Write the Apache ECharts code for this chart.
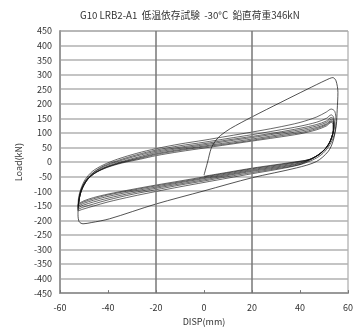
<!DOCTYPE html>
<html>
<head>
<meta charset="utf-8">
<script src="https://cdn.jsdelivr.net/npm/echarts@6/dist/echarts.min.js"></script>
<style>
  html, body { margin: 0; padding: 0; background: #fff; }
  #chart { width: 356px; height: 331px; }
</style>
</head>
<body>
<div id="chart"></div>
<script>
// Hysteresis record: displacement (mm) vs. load (kN), one array per cycle
const titleText = 'G10 LRB2-A1  低温依存試験  -30°C  鉛直荷重346kN';
const xTickValues = [-60, -40, -20, 0, 20, 40, 60];
const yTickValues = [-450, -400, -350, -300, -250, -200, -150, -100, -50, 0, 50, 100, 150, 200, 250, 300, 350, 400, 450];
const gridLineX = [-20, 20];

const cycle0 = [[0,-45],[1.5,0],[3,47],[5,75],[7,92],[11,115],[20,155],[32,205],[43,250],[51,282],[53.7,290],[55,279],[55.8,239],[55.5,180],[55.1,126],[53.7,70],[51.7,36],[46.9,2],[38.6,-20],[20,-54],[0,-99],[-20,-144],[-39.4,-195],[-47,-208],[-50.4,-212],[-52,-205],[-52.5,-180],[-52.5,-168]];
const cycle1 = [[-52.5,-168],[-52.3,-125],[-51.3,-92],[-49.5,-60],[-46.5,-32],[-42,-10],[-36,10],[-28,30],[-20,46],[-10,62],[0,75],[10,89],[20,103],[30,118],[40,136],[47,155],[51,172],[53,182],[54.5,174],[55,140],[54.6,105],[53.6,78],[52.1,55],[49.6,30],[46,10],[40,-9],[30,-26],[20,-40],[10,-55],[0,-70],[-10,-85],[-20,-101],[-30,-118],[-40,-137],[-46,-151],[-50.5,-162],[-52.5,-168]];
const cycle2 = [[-52.5,-168],[-52,-120],[-51,-90],[-49,-60],[-46,-35],[-42,-14],[-36,5],[-28,25],[-20,41],[-10,56],[0,68],[10,81],[20,94],[30,108],[40,123],[47,137],[51,150],[53,162],[54,154],[54.3,128],[53.8,100],[52.8,75],[51.2,52],[48.7,30],[45,11],[40,-8],[30,-23],[20,-36],[10,-50],[0,-65],[-10,-79],[-20,-95],[-30,-111],[-40,-130],[-46,-144],[-50.5,-155],[-52.5,-163]];
const cycle3 = [[-52.5,-163],[-51.8,-117],[-50.8,-88],[-48.8,-59],[-45.8,-35],[-41.5,-15],[-35.5,3],[-28,21],[-20,37],[-10,51],[0,63],[10,76],[20,88],[30,101],[40,116],[47,129],[51,141],[53,153],[54,147],[54.2,122],[53.6,96],[52.6,72],[51,50],[48.5,29],[45,12],[40,-5],[30,-20],[20,-32],[10,-46],[0,-61],[-10,-75],[-20,-90],[-30,-106],[-40,-124],[-46,-137],[-50.3,-148],[-52.5,-157]];
const cycle4 = [[-52.5,-157],[-51.7,-114],[-50.6,-87],[-48.6,-59],[-45.5,-36],[-41,-17],[-35,0],[-27.5,17],[-20,33],[-10,47],[0,59],[10,72],[20,84],[30,97],[40,111],[47,124],[51,136],[53,147],[54,141],[54.1,117],[53.5,92],[52.4,69],[50.8,48],[48.3,28],[44.8,11],[40,-3],[30,-17],[20,-29],[10,-43],[0,-57],[-10,-71],[-20,-86],[-30,-101],[-40,-118],[-46,-131],[-50.2,-142],[-52.5,-152]];
const cycle5 = [[-52.5,-152],[-51.6,-112],[-50.4,-86],[-48.4,-59],[-45.3,-37],[-40.8,-18],[-34.8,-2],[-27.3,14],[-20,29],[-10,43],[0,55],[10,67],[20,79],[30,92],[40,106],[47,119],[51,131],[53,142],[54,136],[54,113],[53.4,89],[52.3,66],[50.6,46],[48,27],[44.5,10],[40,0],[30,-14],[20,-26],[10,-40],[0,-54],[-10,-68],[-20,-82],[-30,-97],[-40,-113],[-46,-126],[-50.1,-137],[-52.4,-147]];
const cycle6 = [[-52.4,-147],[-51.5,-108],[-50.3,-83],[-48.2,-57],[-45.1,-36],[-40.5,-18],[-34.5,-2],[-27,12],[-20,26],[-10,40],[0,52],[10,63],[20,75],[30,88],[40,101],[47,115],[51,128],[53,139],[53.9,133],[53.9,110],[53.3,87],[52.2,64],[50.5,45],[47.9,26],[44.3,10],[40,2],[30,-11],[20,-23],[10,-37],[0,-51],[-10,-65],[-20,-79],[-30,-94],[-40,-110],[-46,-122],[-50,-133],[-52.3,-143]];
const cycle7 = [[-52.3,-143],[-51.4,-105],[-50.1,-80],[-48,-55],[-44.8,-35],[-40.2,-18],[-34,-3],[-26.5,10],[-20,22],[-10,36],[0,48],[10,60],[20,72],[30,84],[40,97],[47,111],[51,124],[53,136],[53.8,130],[53.8,108],[53.2,85],[52,63],[50.3,44],[47.6,25],[44,9],[40,3],[30,-9],[20,-21],[10,-35],[0,-49]];

const cycles = [cycle0, cycle1, cycle2, cycle3, cycle4, cycle5, cycle6, cycle7];

const chart = echarts.init(document.getElementById('chart'), null, { renderer: 'canvas' });
const font = '"Noto Sans CJK JP", "Noto Sans", sans-serif';

const series = cycles.map((c, i) => ({
  type: 'line',
  data: c,
  showSymbol: false,
  symbol: 'none',
  smooth: 0.3,
  smoothMonotone: 'none',
  silent: true,
  lineStyle: { color: '#111', width: 0.9, opacity: i === 0 ? 0.8 : 0.7 },
  z: 3
}));

// vertical reference lines at ±20 mm
series.push({
  type: 'line',
  data: [],
  markLine: {
    silent: true,
    symbol: 'none',
    label: { show: false },
    lineStyle: { color: '#777', width: 1.5, type: 'solid' },
    data: gridLineX.map(v => ({ xAxis: v }))
  },
  z: 1
});

chart.setOption({
  animation: false,
  backgroundColor: '#fff',
  title: {
    text: titleText,
    left: 75,
    top: 5,
    textStyle: { fontFamily: font, fontSize: 9.7, fontWeight: 'normal', color: '#333' }
  },
  grid: { left: 60, right: 4, top: 31, bottom: 34, show: true, borderColor: '#9a9a9a', borderWidth: 1 },
  xAxis: {
    type: 'value',
    min: xTickValues[0],
    max: xTickValues[xTickValues.length - 1],
    interval: 20,
    name: 'DISP(mm)',
    nameLocation: 'middle',
    nameGap: 21,
    nameTextStyle: { fontFamily: font, fontSize: 9, color: '#333' },
    axisLine: { show: true, onZero: false, lineStyle: { color: '#999', width: 2 } },
    axisTick: { show: true, inside: true, length: 3, lineStyle: { color: '#777' } },
    axisLabel: { fontFamily: font, fontSize: 9, color: '#333', margin: 10 },
    splitLine: { show: false }
  },
  yAxis: {
    type: 'value',
    min: yTickValues[0],
    max: yTickValues[yTickValues.length - 1],
    interval: 50,
    name: 'Load(kN)',
    nameLocation: 'middle',
    nameGap: 37,
    nameTextStyle: { fontFamily: font, fontSize: 9, color: '#333' },
    axisLine: { show: true, onZero: false, lineStyle: { color: '#999', width: 2 } },
    axisTick: { show: false },
    axisLabel: { fontFamily: font, fontSize: 9, color: '#333', margin: 8 },
    splitLine: { show: true, lineStyle: { color: '#b0b0b0', width: 1.6 } }
  },
  series: series
});
</script>
</body>
</html>
